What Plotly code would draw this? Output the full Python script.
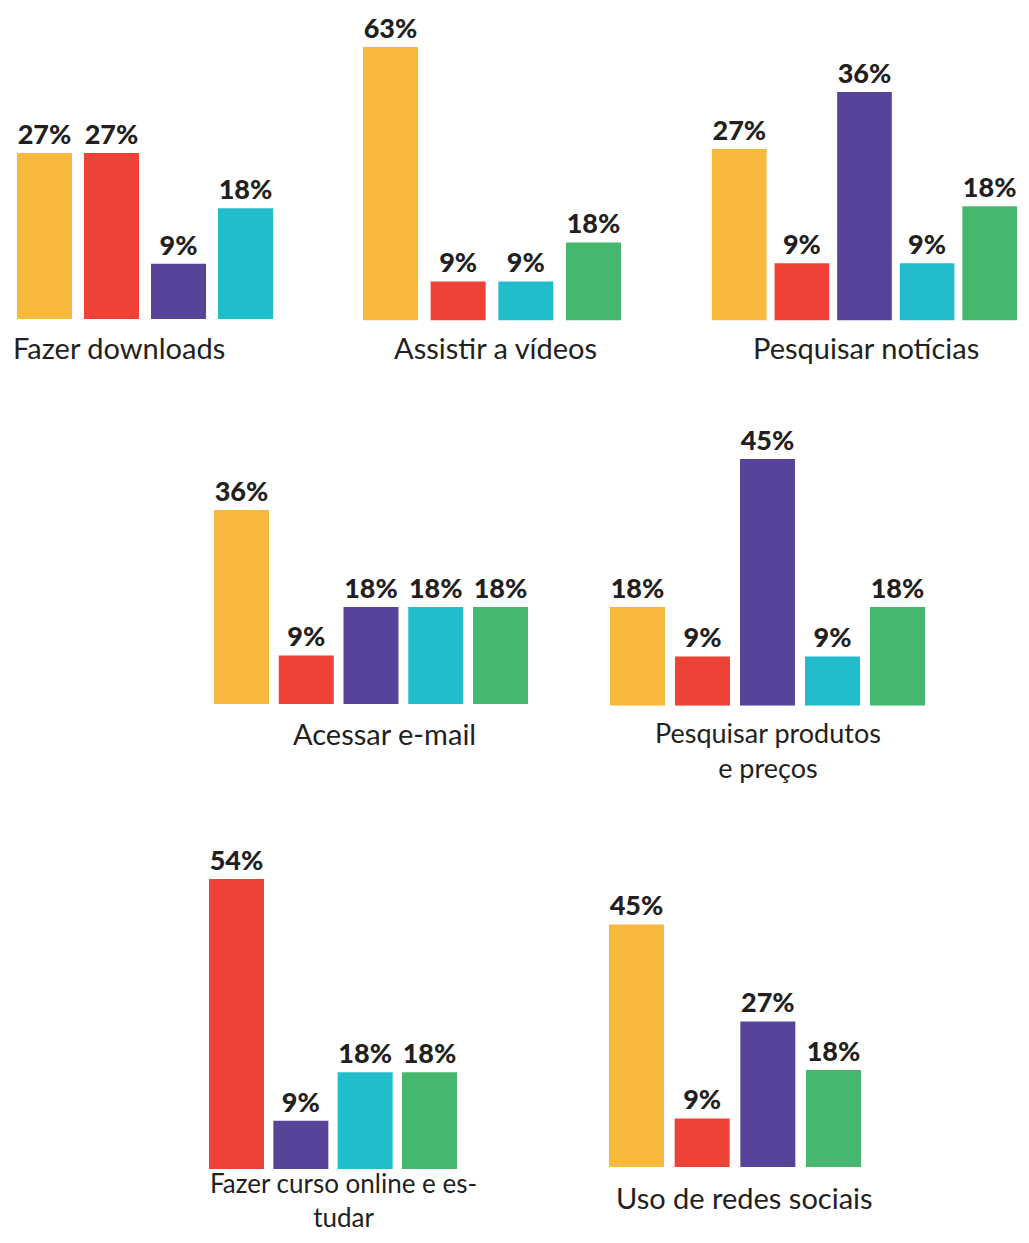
import plotly.graph_objects as go

# ---- data -----------------------------------------------------------------
group_colors = {
    "amarelo": "#F9B93E",
    "vermelho": "#EE4236",
    "roxo": "#57449A",
    "ciano": "#22BDCB",
    "verde": "#45B86E",
}

panel_titles = [
    "Fazer downloads",
    "Assistir a vídeos",
    "Pesquisar notícias",
    "Acessar e-mail",
    "Pesquisar produtos<br>e preços",
    "Fazer curso online e es-<br>tudar",
    "Uso de redes sociais",
]

p1_groups = ["amarelo", "vermelho", "roxo", "ciano"]
p1_values = [27, 27, 9, 18]
p2_groups = ["amarelo", "vermelho", "ciano", "verde"]
p2_values = [63, 9, 9, 18]
p3_groups = ["amarelo", "vermelho", "roxo", "ciano", "verde"]
p3_values = [27, 9, 36, 9, 18]
p4_groups = ["amarelo", "vermelho", "roxo", "ciano", "verde"]
p4_values = [36, 9, 18, 18, 18]
p5_groups = ["amarelo", "vermelho", "roxo", "ciano", "verde"]
p5_values = [18, 9, 45, 9, 18]
p6_groups = ["vermelho", "roxo", "ciano", "verde"]
p6_values = [54, 9, 18, 18]
p7_groups = ["amarelo", "vermelho", "roxo", "verde"]
p7_values = [45, 9, 27, 18]

panel_groups = [p1_groups, p2_groups, p3_groups, p4_groups, p5_groups, p6_groups, p7_groups]
panel_values = [p1_values, p2_values, p3_values, p4_values, p5_values, p6_values, p7_values]

# ---- layout geometry (reference pixels) ------------------------------------
W, H = 1013, 1227   # page has 8px body margin
OFF = 8

def px(x):
    return min(max((x - OFF) / W, 0.0), 1.0)

def py(y):
    return min(max(1 - (y - OFF) / H, 0.0), 1.0)

BAR_W = 55
# left of first bar, right of last bar, baseline, pixels per percent
geom = [
    (17, 273, 319.0, 6.15),
    (363, 621, 320.5, 4.34),
    (712, 1019, 320.5, 6.35),
    (214, 528, 704.0, 5.39),
    (610, 925, 705.7, 5.48),
    (209, 457, 1169.0, 5.37),
    (609, 861, 1167.0, 5.39),
]
# label positions: (x, xanchor, y, yanchor, font size)
label_pos = [
    (11, "left", 348, "middle", 29),
    (495, "center", 348, "middle", 29),
    (866, "center", 348, "middle", 29),
    (384, "center", 733, "middle", 29),
    (768, "center", 750, "middle", 27),
    (343, "center", 1235, "bottom", 26),
    (744, "center", 1197, "middle", 29),
]

TXT = "#231F20"
fig = go.Figure()
DOM_H = 290
annotations = []
for i, (groups, values) in enumerate(zip(panel_groups, panel_values)):
    n = len(groups)
    left, right, base, scale = geom[i]
    gap = (right - left - n * BAR_W) / (n - 1)
    pitch = BAR_W + gap
    xa = "x" if i == 0 else f"x{i+1}"
    ya = "y" if i == 0 else f"y{i+1}"
    fig.add_trace(go.Bar(
        x=groups, y=values, width=BAR_W / pitch,
        marker=dict(color=[group_colors[g] for g in groups], line=dict(width=0)),
        texttemplate="%{y}%", textposition="outside", cliponaxis=False,
        constraintext="none",
        textfont=dict(family="Lato", size=27, color=TXT, weight=900),
        xaxis=xa, yaxis=ya, showlegend=False, hoverinfo="skip",
    ))
    ax_key = "xaxis" if i == 0 else f"xaxis{i+1}"
    ay_key = "yaxis" if i == 0 else f"yaxis{i+1}"
    fig.update_layout(**{
        ax_key: dict(domain=[px(left - gap / 2), px(right + gap / 2)], visible=False,
                     anchor=ya, fixedrange=True),
        ay_key: dict(domain=[py(base), py(base - DOM_H)], range=[0, DOM_H / scale],
                     visible=False, anchor=xa, fixedrange=True),
    })
    lx, xanc, ly, yanc, fs = label_pos[i]
    annotations.append(dict(
        x=px(lx), y=py(ly), xref="paper", yref="paper", text=panel_titles[i],
        showarrow=False, xanchor=xanc, yanchor=yanc, align="center",
        font=dict(family="Lato", size=fs, color=TXT),
    ))

fig.update_layout(
    width=W, height=H,
    margin=dict(l=0, r=0, t=0, b=0),
    paper_bgcolor="white", plot_bgcolor="rgba(0,0,0,0)",
    annotations=annotations,
)

fig.write_html("out.html")
